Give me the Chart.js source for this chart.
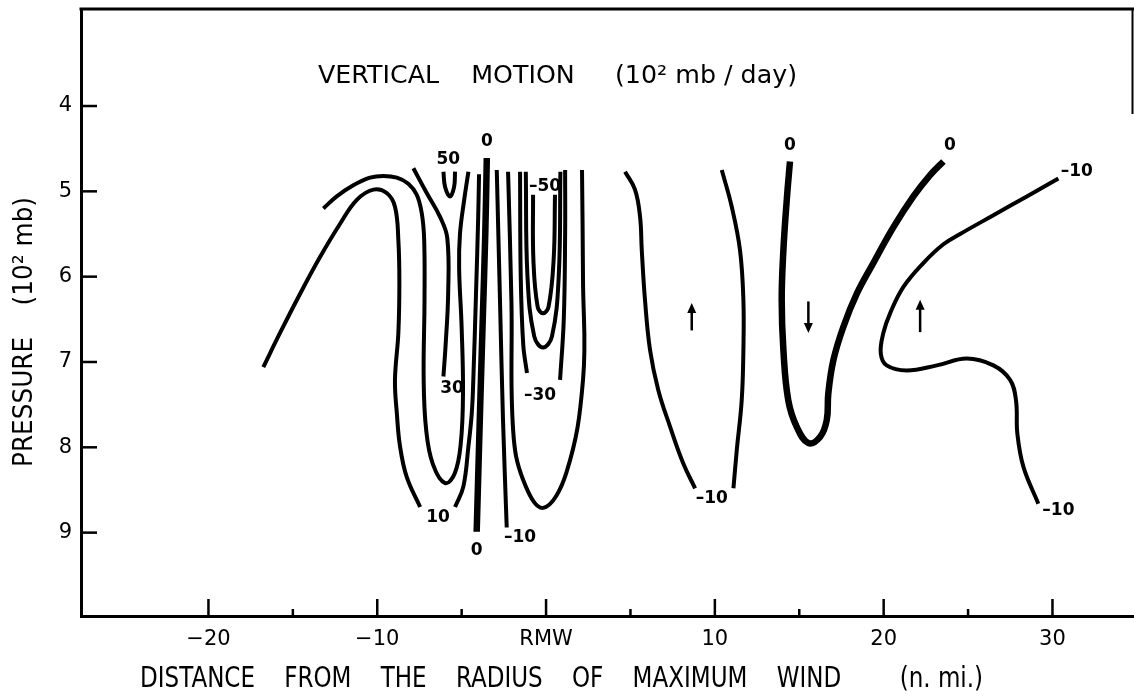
<!DOCTYPE html>
<html>
<head>
<meta charset="utf-8">
<script src="https://cdn.jsdelivr.net/npm/chart.js@4.4.1/dist/chart.umd.min.js"></script>
<style>
  html, body { margin: 0; padding: 0; background: #fff; }
</style>
</head>
<body>
<canvas id="vmChart" width="1134" height="698"></canvas>
<script>
// axis ticks
const xMajor = [-20, -10, 0, 10, 20, 30]
const xMinor = [-15, -5, 5, 15, 25]
const yMajor = [4, 5, 6, 7, 8, 9]

// contours, [distance n.mi., pressure 10^2 mb]
const c10Left = [[-16.75,7.06],[-15.76,6.66],[-14.57,6.20],[-13.39,5.77],[-12.20,5.38],[-11.21,5.10],[-10.23,4.98],[-9.44,5.02],[-8.95,5.18],[-8.75,5.57],[-8.69,6.08],[-8.75,6.66],[-8.95,7.21],[-8.84,7.60],[-8.65,7.99],[-8.25,8.35],[-7.46,8.70]]
const c10Right = [[-5.39,8.70],[-4.90,8.46],[-4.60,7.99],[-4.40,7.60],[-4.31,7.21],[-4.15,6.2],[-4.02,5.3],[-3.97,4.80]]
const c20 = [[-13.19,5.20],[-12.40,5.06],[-11.42,4.93],[-10.43,4.84],[-9.64,4.82],[-8.84,4.84],[-8.16,4.91],[-7.66,5.04],[-7.36,5.26],[-7.22,5.57],[-7.20,6.27],[-7.25,7.21],[-7.10,7.80],[-6.70,8.20],[-5.98,8.42],[-5.40,8.30],[-5.05,7.95],[-4.92,7.36],[-5.00,6.6],[-5.15,5.9],[-5.10,5.5],[-4.85,5.1],[-4.60,4.77]]
const c30 = [[-7.86,4.73],[-7.07,5.02],[-6.28,5.30],[-5.85,5.55],[-5.80,6.2],[-5.95,6.8],[-6.08,7.17]]
const c50 = [[-6.08,4.77],[-5.98,4.95],[-5.69,5.06],[-5.45,4.95],[-5.39,4.77]]
const c0Center = [[-3.51,4.61],[-3.60,5.5],[-3.75,6.5],[-3.90,7.5],[-4.11,8.99]]
const cm10Center = [[-2.92,4.75],[-2.73,6.27],[-2.55,7.68],[-2.33,8.94]]
const cm20 = [[-2.25,4.77],[-2.05,6.3],[-1.95,7.80],[-1.36,8.38],[-0.18,8.71],[1.2,8.3],[2.19,7.21],[2.19,6.04],[2.13,4.75]]
const cm30Left = [[-1.54,4.77],[-1.50,6.0],[-1.35,6.8],[-1.13,7.13]]
const cm30Right = [[0.83,7.21],[1.05,6.5],[1.13,5.5],[1.13,4.75]]
const cm40 = [[-1.20,4.77],[-1.10,6.0],[-0.70,6.7],[-0.18,6.83],[0.35,6.7],[0.75,6.0],[0.85,4.77]]
const cm50 = [[-0.77,5.04],[-0.75,5.8],[-0.50,6.35],[-0.18,6.43],[0.15,6.35],[0.45,5.8],[0.53,5.04]]
const cm10MidLeft = [[4.68,4.77],[5.27,4.98],[5.57,5.30],[5.67,5.69],[5.86,6.27],[6.16,6.86],[6.65,7.33],[7.35,7.76],[8.13,8.19],[8.83,8.48]]
const cm10MidRight = [[10.41,4.75],[11.00,5.18],[11.49,5.69],[11.69,6.27],[11.69,6.86],[11.59,7.45],[11.30,8.03],[11.10,8.48]]
const c0Right = [[14.45,4.65],[14.26,5.10],[14.06,5.69],[13.96,6.27],[14.06,6.86],[14.35,7.45],[14.85,7.76],[15.54,7.95],[16.23,7.88],[16.63,7.68],[16.72,7.37],[17.02,6.98],[17.61,6.59],[18.41,6.20],[19.39,5.84],[20.58,5.42],[21.76,5.06],[22.75,4.81],[23.54,4.65]]
const cm10Far = [[30.35,4.85],[28.48,5.06],[26.50,5.28],[24.53,5.50],[23.54,5.62],[22.35,5.84],[21.17,6.12],[20.38,6.43],[19.98,6.66],[19.83,6.90],[20.18,7.04],[21.37,7.10],[23.15,7.04],[24.92,6.96],[26.50,7.04],[27.49,7.21],[27.84,7.45],[27.92,7.84],[28.28,8.23],[29.16,8.66]]

const thinLines = [c10Left, c10Right, c20, c30, c50, cm10Center, cm20, cm30Left, cm30Right, cm40, cm50, cm10MidLeft, cm10MidRight, cm10Far]
const thickLines = [c0Center, c0Right]

// contour labels
const labelText = ['0', '50', '-50', '30', '-30', '10', '0', '-10', '-10', '0', '0', '-10', '-10']
const labelX = [-3.51, -5.79, -0.06, -5.57, -0.36, -6.40, -4.11, -1.54, 9.82, 14.45, 23.93, 31.44, 30.35]
const labelY = [4.42, 4.63, 4.95, 7.31, 7.39, 8.82, 9.21, 9.06, 8.60, 4.46, 4.46, 4.77, 8.74]

// arrows (up = rising air)
const arrowX = [8.63, 15.54, 22.16]
const arrowFrom = [6.63, 6.29, 6.65]
const arrowTo = [6.31, 6.66, 6.27]

const headerText = 'VERTICAL    MOTION     (10² mb / day)'
const xTitleText = 'DISTANCE    FROM    THE    RADIUS    OF    MAXIMUM    WIND        (n. mi.)'
const yTitleText = 'PRESSURE    (10² mb)'

const FONT = '"DejaVu Sans", "Liberation Sans", sans-serif'

const toPoints = arr => arr.map(p => ({ x: p[0], y: p[1] }))

const datasets = []
thinLines.forEach(line => {
  datasets.push({
    data: toPoints(line),
    showLine: true,
    borderColor: '#000',
    borderWidth: 4,
    pointRadius: 0,
    tension: 0.4,
    fill: false,
  })
})
thickLines.forEach(line => {
  datasets.push({
    data: toPoints(line),
    showLine: true,
    borderColor: '#000',
    borderWidth: 6.5,
    pointRadius: 0,
    tension: 0.4,
    fill: false,
  })
})

const fitText = (ctx, text, x, y, width, font, rotate) => {
  ctx.save()
  ctx.font = font
  const w = ctx.measureText(text).width
  ctx.translate(x, y)
  if (rotate) ctx.rotate(-Math.PI / 2)
  ctx.scale(width / w, 1)
  ctx.textAlign = 'left'
  ctx.textBaseline = 'middle'
  ctx.fillStyle = '#000'
  ctx.fillText(text, 0, 0)
  ctx.restore()
}

const decorPlugin = {
  id: 'decor',
  afterDraw(chart) {
    const ctx = chart.ctx
    const xs = chart.scales.x
    const ys = chart.scales.y
    const area = chart.chartArea
    ctx.save()
    ctx.strokeStyle = '#000'
    ctx.lineCap = 'butt'

    // frame top and right stub
    ctx.lineWidth = 3
    ctx.beginPath()
    ctx.moveTo(area.left - 1.5, area.top)
    ctx.lineTo(area.right, area.top)
    ctx.stroke()
    ctx.lineWidth = 2
    ctx.beginPath()
    ctx.moveTo(area.right - 1.5, area.top)
    ctx.lineTo(area.right - 1.5, 114)
    ctx.stroke()

    // inward tick marks
    ctx.lineWidth = 2.5
    yMajor.forEach(v => {
      const py = ys.getPixelForValue(v)
      ctx.beginPath()
      ctx.moveTo(area.left, py)
      ctx.lineTo(area.left + 16, py)
      ctx.stroke()
    })
    xMajor.forEach(v => {
      const px = xs.getPixelForValue(v)
      ctx.beginPath()
      ctx.moveTo(px, area.bottom)
      ctx.lineTo(px, area.bottom - 17)
      ctx.stroke()
    })
    xMinor.forEach(v => {
      const px = xs.getPixelForValue(v)
      ctx.beginPath()
      ctx.moveTo(px, area.bottom)
      ctx.lineTo(px, area.bottom - 7)
      ctx.stroke()
    })

    // contour labels
    ctx.fillStyle = '#000'
    ctx.font = 'bold 17px ' + FONT
    ctx.textAlign = 'center'
    ctx.textBaseline = 'middle'
    labelText.forEach((t, i) => {
      ctx.fillText(t.replace('-', '–'), xs.getPixelForValue(labelX[i]), ys.getPixelForValue(labelY[i]))
    })

    // arrows
    ctx.lineWidth = 2.5
    arrowX.forEach((v, i) => {
      const px = xs.getPixelForValue(v)
      const y0 = ys.getPixelForValue(arrowFrom[i])
      const y1 = ys.getPixelForValue(arrowTo[i])
      const dir = y1 < y0 ? -1 : 1
      ctx.beginPath()
      ctx.moveTo(px, y0)
      ctx.lineTo(px, y1 - dir * 8)
      ctx.stroke()
      ctx.beginPath()
      ctx.moveTo(px, y1)
      ctx.lineTo(px - 4.5, y1 - dir * 10)
      ctx.lineTo(px + 4.5, y1 - dir * 10)
      ctx.closePath()
      ctx.fill()
    })

    // titles
    fitText(ctx, headerText, 318, 76, 479, '25px ' + FONT, false)
    fitText(ctx, xTitleText, 140, 679, 843, '29px ' + FONT, false)
    fitText(ctx, yTitleText, 25, 467, 270, '27px ' + FONT, true)
    ctx.restore()
  }
}

const ctxVm = document.getElementById('vmChart').getContext('2d')
const chartVm = new Chart(ctxVm, {
  type: 'scatter',
  data: { datasets: datasets },
  options: {
    responsive: false,
    animation: false,
    devicePixelRatio: 1,
    layout: { padding: { top: 9, right: 0, left: 0, bottom: 0 } },
    plugins: { legend: { display: false }, tooltip: { enabled: false } },
    scales: {
      x: {
        type: 'linear',
        min: -27.55,
        max: 34.83,
        afterBuildTicks: scale => { scale.ticks = xMajor.map(v => ({ value: v })) },
        afterFit: scale => {
          scale.height = 82
          scale.paddingLeft = 0
          scale.paddingRight = 0
        },
        grid: { display: false, drawTicks: false },
        border: { display: true, color: '#000', width: 3 },
        ticks: {
          color: '#000',
          padding: 11,
          font: { family: FONT, size: 21 },
          maxRotation: 0,
          autoSkip: false,
          callback: v => v === 0 ? 'RMW' : (v < 0 ? '−' + Math.abs(v) : String(v)),
        },
      },
      y: {
        type: 'linear',
        reverse: true,
        min: 2.863,
        max: 9.977,
        afterBuildTicks: scale => { scale.ticks = yMajor.map(v => ({ value: v })) },
        afterFit: scale => {
          scale.width = 81
          scale.paddingTop = 0
          scale.paddingBottom = 0
        },
        grid: { display: false, drawTicks: false },
        border: { display: true, color: '#000', width: 3 },
        ticks: {
          color: '#000',
          padding: 9,
          font: { family: FONT, size: 21 },
          autoSkip: false,
        },
      },
    },
  },
  plugins: [decorPlugin],
})
</script>
</body>
</html>
